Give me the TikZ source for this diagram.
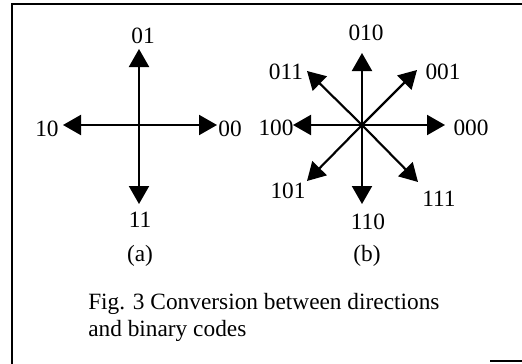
\documentclass[tikz,border=0pt]{standalone}
\usepackage{fontspec}
\setmainfont{Liberation Serif}
\usetikzlibrary{arrows.meta}
\begin{document}
\begin{tikzpicture}[
  x=0.75pt, y=-0.75pt,
  dirarrow/.style={-{Triangle[length=13.5pt,width=15pt]}, line width=1.6pt},
  code/.style={font=\fontsize{17.5}{21}\selectfont, inner sep=0pt},
  caption/.style={font=\fontsize{17.5}{20.25}\selectfont, inner sep=0pt, align=left, anchor=north west},
  frameline/.style={line width=1.8pt}
]
\useasboundingbox (0,0) rectangle (522,364);
% frame
\draw[frameline] (12,364) -- (12,4) -- (522,4);
\draw[frameline] (490,361) -- (522,361);

% (a) four directions
\coordinate (ca) at (139,125);
\coordinate (ca-n) at (139,49);
\coordinate (ca-s) at (139,204);
\coordinate (ca-w) at (63,125);
\coordinate (ca-e) at (217,125);
\node[code] (a01) at (143,36) {01};
\node[code] (a11) at (140,220) {11};
\node[code] (a10) at (47,129) {10};
\node[code] (a00) at (230,129) {00};
\draw[dirarrow] (ca) -- (ca-n);
\draw[dirarrow] (ca) -- (ca-s);
\draw[dirarrow] (ca) -- (ca-w);
\draw[dirarrow] (ca) -- (ca-e);
\node[code] (capa) at (140,256) {(a)};

% (b) eight directions
\coordinate (cb) at (362,125);
\coordinate (cb-n) at (362,53);
\coordinate (cb-s) at (362,204);
\coordinate (cb-w) at (293,125);
\coordinate (cb-e) at (445,125);
\coordinate (cb-ne) at (417,70);
\coordinate (cb-nw) at (307,71);
\coordinate (cb-sw) at (307,181);
\coordinate (cb-se) at (418,182);
\node[code] (b010) at (366,33) {010};
\node[code] (b001) at (443,72) {001};
\node[code] (b011) at (286,72) {011};
\node[code] (b100) at (276,128) {100};
\node[code] (b000) at (471,128) {000};
\node[code] (b101) at (288,191) {101};
\node[code] (b111) at (439,199) {111};
\node[code] (b110) at (368,222) {110};
\draw[dirarrow] (cb) -- (cb-n);
\draw[dirarrow] (cb) -- (cb-s);
\draw[dirarrow] (cb) -- (cb-w);
\draw[dirarrow] (cb) -- (cb-e);
\draw[dirarrow] (cb) -- (cb-ne);
\draw[dirarrow] (cb) -- (cb-nw);
\draw[dirarrow] (cb) -- (cb-sw);
\draw[dirarrow] (cb) -- (cb-se);
\node[code] (capb) at (367,256) {(b)};

\node[caption] (figcap) at (88,293) {Fig. 3 Conversion between directions\\and binary codes};
\end{tikzpicture}
\end{document}
